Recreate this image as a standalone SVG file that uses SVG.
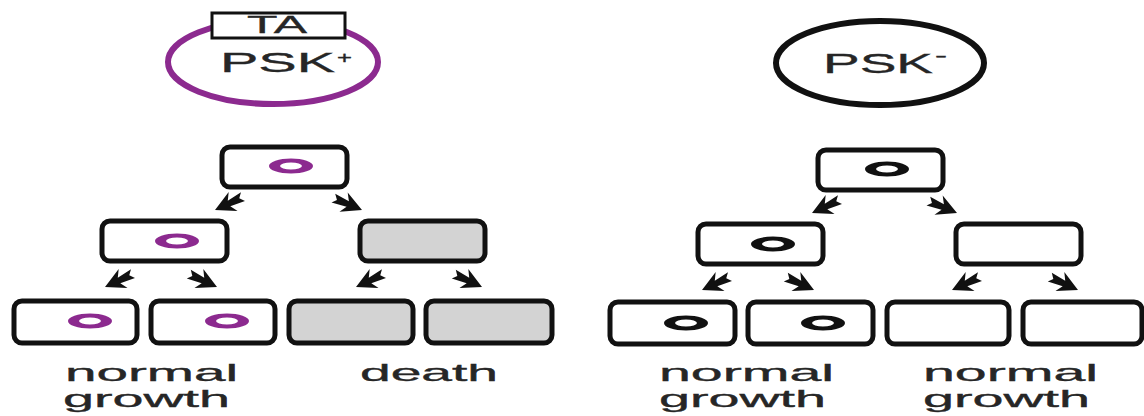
<svg xmlns="http://www.w3.org/2000/svg" xmlns:xlink="http://www.w3.org/1999/xlink" width="1144" height="416" viewBox="0 0 1144 416">
<style>
.cell{fill:#fff;stroke:#111;stroke-width:5}
.dead{fill:#d3d3d3;stroke:#111;stroke-width:5}
.pr{fill:#8c2a8f;fill-rule:evenodd}
.br{fill:#111;fill-rule:evenodd}
.lbl{font-family:"Liberation Sans",Arial,sans-serif;fill:#262626;stroke:#262626;stroke-width:0.35}
.arr{fill:#111}
</style>
<defs>
<path id="arr" d="M0,0 L-20,-10.5 L-15.5,-3 L-31,-4.5 L-27,0.5 L-31,5 L-15.5,3 L-20,10.5 Z"/>
<path id="ring" d="M-22,0 a22,7.5 0 1,0 44,0 a22,7.5 0 1,0 -44,0 Z M-11,0 a11,3.5 0 1,0 22,0 a11,3.5 0 1,0 -22,0 Z"/>
</defs>
<rect width="1144" height="416" fill="#fff"/>

<g id="plasmid-plus">
<ellipse cx="273" cy="62" rx="105" ry="42" fill="none" stroke="#8c2a8f" stroke-width="6"/>
<rect x="212" y="13" width="133" height="25" fill="#fff" stroke="#111" stroke-width="3"/>
<text class="lbl" x="247" y="33" font-size="24" textLength="60" lengthAdjust="spacingAndGlyphs">TA</text>
<text class="lbl" x="220" y="72" font-size="28" textLength="115" lengthAdjust="spacingAndGlyphs">PSK</text>
<text class="lbl" x="337" y="63" font-size="17" textLength="15" lengthAdjust="spacingAndGlyphs">+</text>
</g>

<g id="plasmid-minus">
<ellipse cx="880" cy="63" rx="104" ry="42" fill="none" stroke="#111" stroke-width="6"/>
<text class="lbl" x="823" y="73" font-size="28" textLength="110" lengthAdjust="spacingAndGlyphs">PSK</text>
<text class="lbl" x="935" y="61" font-size="16" textLength="12" lengthAdjust="spacingAndGlyphs">-</text>
</g>

<!-- left tree -->
<g id="L-top"><rect class="cell" x="222" y="147" width="125" height="40" rx="8"/><use xlink:href="#ring" class="pr" x="291" y="166"/></g>
<g id="L-mid1"><rect class="cell" x="102" y="221" width="125" height="40" rx="8"/><use xlink:href="#ring" class="pr" x="177" y="241"/></g>
<g id="L-mid2"><rect class="dead" x="360" y="221" width="125" height="40" rx="8"/></g>
<g id="L-b1"><rect class="cell" x="14" y="301" width="123" height="42" rx="8"/><use xlink:href="#ring" class="pr" x="90" y="321"/></g>
<g id="L-b2"><rect class="cell" x="151" y="301" width="124" height="42" rx="8"/><use xlink:href="#ring" class="pr" x="227" y="321"/></g>
<g id="L-b3"><rect class="dead" x="289" y="301" width="124" height="42" rx="8"/></g>
<g id="L-b4"><rect class="dead" x="426" y="301" width="126" height="42" rx="8"/></g>

<!-- right tree -->
<g id="R-top"><rect class="cell" x="818" y="150" width="125" height="40" rx="8"/><use xlink:href="#ring" class="br" x="887" y="169"/></g>
<g id="R-mid1"><rect class="cell" x="698" y="224" width="125" height="40" rx="8"/><use xlink:href="#ring" class="br" x="773" y="244"/></g>
<g id="R-mid2"><rect class="cell" x="956" y="224" width="125" height="40" rx="8"/></g>
<g id="R-b1"><rect class="cell" x="610" y="302" width="125" height="42" rx="8"/><use xlink:href="#ring" class="br" x="686" y="323"/></g>
<g id="R-b2"><rect class="cell" x="748" y="302" width="125" height="42" rx="8"/><use xlink:href="#ring" class="br" x="823" y="323"/></g>
<g id="R-b3"><rect class="cell" x="887" y="302" width="122" height="42" rx="8"/></g>
<g id="R-b4"><rect class="cell" x="1023" y="302" width="119" height="42" rx="8"/></g>

<g id="connectors" class="arr">
<use xlink:href="#arr" transform="translate(215,210) rotate(155)"/>
<use xlink:href="#arr" transform="translate(362,210) rotate(23)"/>
<use xlink:href="#arr" transform="translate(105,287) rotate(155)"/>
<use xlink:href="#arr" transform="translate(217,287) rotate(25)"/>
<use xlink:href="#arr" transform="translate(356,287) rotate(155)"/>
<use xlink:href="#arr" transform="translate(482,287) rotate(25)"/>
<use xlink:href="#arr" transform="translate(812,213) rotate(155)"/>
<use xlink:href="#arr" transform="translate(957,213) rotate(23)"/>
<use xlink:href="#arr" transform="translate(702,290) rotate(155)"/>
<use xlink:href="#arr" transform="translate(814,290) rotate(25)"/>
<use xlink:href="#arr" transform="translate(952,290) rotate(155)"/>
<use xlink:href="#arr" transform="translate(1078,290) rotate(25)"/>
</g>

<g id="labels">
<text class="lbl" x="65" y="381" font-size="24" textLength="173" lengthAdjust="spacingAndGlyphs">normal</text>
<text class="lbl" x="63" y="407" font-size="24" textLength="167" lengthAdjust="spacingAndGlyphs">growth</text>
<text class="lbl" x="360" y="381" font-size="24" textLength="138" lengthAdjust="spacingAndGlyphs">death</text>
<text class="lbl" x="659" y="381" font-size="24" textLength="175" lengthAdjust="spacingAndGlyphs">normal</text>
<text class="lbl" x="659" y="407" font-size="24" textLength="167" lengthAdjust="spacingAndGlyphs">growth</text>
<text class="lbl" x="923" y="381" font-size="24" textLength="175" lengthAdjust="spacingAndGlyphs">normal</text>
<text class="lbl" x="923" y="407" font-size="24" textLength="167" lengthAdjust="spacingAndGlyphs">growth</text>
</g>
</svg>
